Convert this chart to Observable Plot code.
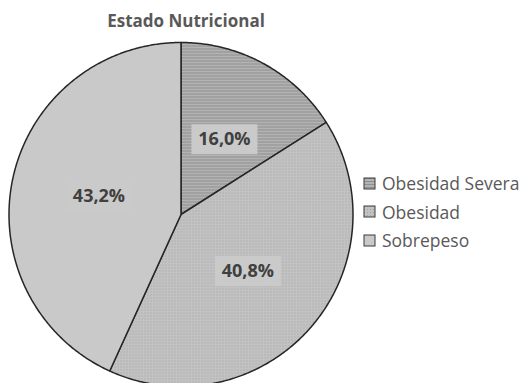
<!DOCTYPE html>
<html>
<head>
<meta charset="utf-8">
<script src="https://cdn.jsdelivr.net/npm/d3@7"></script>
<script src="https://cdn.jsdelivr.net/npm/@observablehq/plot@0.6"></script>
<style>
  html, body { margin: 0; padding: 0; background: #fff; overflow: hidden; }
  #chart { position: relative; width: 524px; height: 383px; font-family: "Open Sans", sans-serif; }
  #title { position: absolute; left: 0; top: 9px; width: 372px; text-align: center;
           font-weight: bold; font-size: 17px; color: #595959; }
  #pie { position: absolute; left: 0; top: 0; }
  #legend { position: absolute; left: 364px; top: 169px; }
  #legend .leg-swatch { height: 28.5px; padding: 0 !important; }
  #legend svg { overflow: visible; margin-right: 7px !important; }
  #legend svg rect { stroke: #3a3a3a; stroke-width: 1; }
</style>
</head>
<body>
<svg width="0" height="0" style="position:absolute">
  <defs>
    <pattern id="fill-severa" width="4" height="3" patternUnits="userSpaceOnUse">
      <rect width="4" height="3" fill="#b3b3b3"></rect>
      <rect width="4" height="1" fill="#8f8f8f"></rect>
    </pattern>
    <pattern id="fill-obesidad" width="3" height="3" patternUnits="userSpaceOnUse">
      <rect width="3" height="3" fill="#c2c2c2"></rect>
      <rect width="1" height="1" fill="#a2a2a2"></rect>
    </pattern>
  </defs>
</svg>
<div id="chart">
  <div id="pie"></div>
  <div id="title">Estado Nutricional</div>
  <div id="legend"></div>
</div>
<script>
// Nutritional status shares, clockwise from 12 o'clock
const categories = ["Obesidad Severa", "Obesidad", "Sobrepeso"];
const percents = [16.0, 40.8, 43.2];
const percentLabels = ["16,0%", "40,8%", "43,2%"];
const sliceFills = ["url(#fill-severa)", "url(#fill-obesidad)", "#c9c9c9"];

const rows = categories.map((category, i) => ({category, value: percents[i], label: percentLabels[i]}));
const arcs = d3.pie().sort(null).value(d => d.value)(rows);

// Sector polygon on the unit disc (angle 0 at the top, clockwise)
function sectorRing(a0, a1) {
  const n = Math.max(2, Math.ceil((a1 - a0) / (Math.PI / 360)));
  const ring = [[0, 0]];
  for (let k = 0; k <= n; ++k) {
    const a = a0 + (a1 - a0) * k / n;
    ring.push([Math.sin(a), Math.cos(a)]);
  }
  ring.push([0, 0]);
  return ring;
}
function circleRing() {
  const ring = [];
  for (let k = 0; k <= 720; ++k) {
    const a = 2 * Math.PI * k / 720;
    ring.push([Math.sin(a), Math.cos(a)]);
  }
  return ring;
}

const slices = arcs.map(a => ({
  type: "Feature",
  properties: {category: a.data.category},
  geometry: {type: "Polygon", coordinates: [sectorRing(a.startAngle, a.endAngle)]}
}));
const disc = {type: "Polygon", coordinates: [circleRing()]};

const labelPoints = arcs.map(a => {
  const mid = (a.startAngle + a.endAngle) / 2;
  return {x: 0.5 * Math.sin(mid), y: 0.5 * Math.cos(mid), label: a.data.label};
});

// rectangular background behind each percentage label
const labelBox = {draw(context) { context.rect(-33, -15, 66, 30); }};

const pie = Plot.plot({
  width: 524,
  height: 390,
  marginLeft: 8.5,
  marginRight: 171.5,
  marginTop: 42,
  marginBottom: 4,
  projection: {type: "reflect-y", domain: disc},
  color: {domain: categories, range: sliceFills},
  marks: [
    Plot.geo(slices, {fill: d => d.properties.category, stroke: "#262626", strokeWidth: 1.5, strokeLinejoin: "round"}),
    Plot.dot(labelPoints, {x: "x", y: "y", dx: 2, symbol: labelBox, fill: "#cacaca", stroke: "none"}),
    Plot.text(labelPoints, {x: "x", y: "y", dx: 2, text: "label", fontSize: 18, fontWeight: "bold",
      fill: "#404040", fontFamily: "Open Sans"})
  ]
});
document.getElementById("pie").append(pie);

const legend = Plot.legend({
  color: {type: "ordinal", domain: categories, range: sliceFills},
  columns: 1,
  swatchSize: 11,
  className: "leg",
  style: {fontFamily: "Open Sans", fontSize: "17.5px", color: "#595959"}
});
document.getElementById("legend").append(legend);
</script>
</body>
</html>
